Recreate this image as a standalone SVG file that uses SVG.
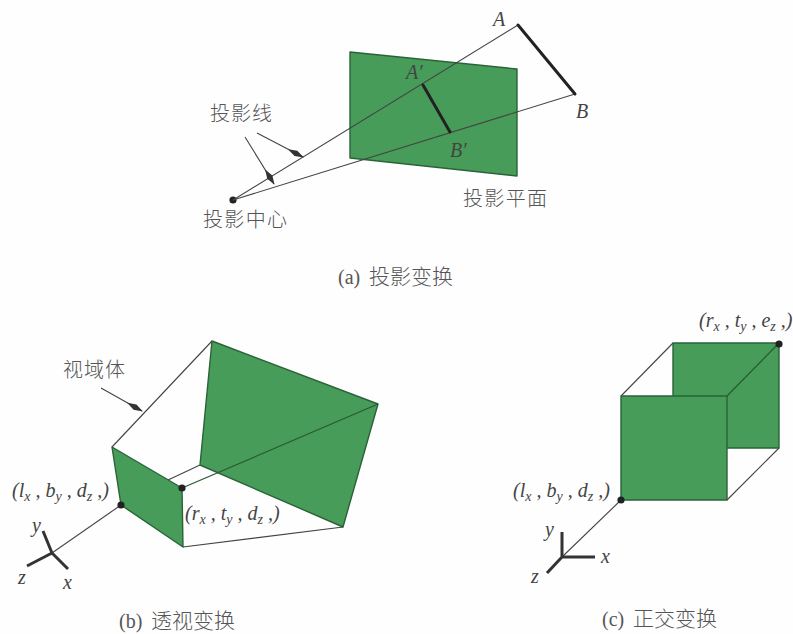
<svg xmlns="http://www.w3.org/2000/svg" width="793" height="634" viewBox="0 0 793 634">
<style>
.plane{fill:#469c58;stroke:#2a6339;stroke-width:1.4;stroke-linejoin:round}
.ln{fill:none;stroke:#444;stroke-width:1.1}
.lnd{fill:none;stroke:#2a5a32;stroke-width:1.2}
.bold{fill:none;stroke:#222;stroke-width:3;stroke-linecap:round}
.ax{fill:none;stroke:#333;stroke-width:3}
.dot{fill:#222}
.cjk{font-family:"Noto Sans CJK SC","Liberation Serif",serif;font-size:20px;font-weight:300;fill:#555}
.cap{font-family:"Liberation Serif","Noto Sans CJK SC",serif;font-size:20px;fill:#555}
.cap .c{font-family:"Noto Sans CJK SC",serif;font-size:21px;font-weight:300}
.m{font-family:"Liberation Serif",serif;font-style:italic;font-size:20px;fill:#444}
.m .s{font-size:14px}
</style>
<defs>
<marker id="ah" markerWidth="18" markerHeight="8" refX="17" refY="4" orient="auto" markerUnits="userSpaceOnUse"><path d="M0 4 L9 1 L18 4 L9 7 Z" fill="#333"/></marker>
</defs>
<rect width="793" height="634" fill="#fefefe"/>

<g id="panel-a">
<g id="plane-a"><polygon class="plane" points="350,52 517,69 517,176 350,158"/></g>
<g id="center-a"><circle class="dot" cx="233" cy="200" r="3.6"/></g>
<g id="connectors-a">
<path class="ln" d="M233,200 L518,25"/>
<path class="ln" d="M233,200 L575,94"/>
<path class="bold" d="M518,25 L575,94"/>
<path class="bold" d="M423,85 L450,132"/>
<path class="ln" d="M257,133 L303,157" marker-end="url(#ah)"/>
<path class="ln" d="M245,137 L274,184" marker-end="url(#ah)"/>
</g>
<text class="m" x="493" y="26">A</text>
<text class="m" x="576" y="118">B</text>
<text class="m" x="406" y="79">A′</text>
<text class="m" x="450" y="157">B′</text>
<text class="cjk" x="210" y="121" textLength="62">投影线</text>
<text class="cjk" x="203" y="227" textLength="84">投影中心</text>
<text class="cjk" x="463" y="206" textLength="84">投影平面</text>
<text class="cap" x="338" y="284">(a) <tspan class="c" x="369">投影变换</tspan></text>
</g>

<g id="panel-b">
<g id="plane-b-far"><polygon class="plane" points="212,341 378,404 343,527 200,465"/></g>
<g id="plane-b-near"><polygon class="plane" points="112,447 182,488 183,547 121,505"/></g>
<g id="connectors-b">
<path class="ln" d="M112,447 L212,341"/>
<path class="lnd" d="M182,488 L378,404"/>
<path class="ln" d="M183,547 L343,527"/>
<path class="ln" d="M168,480 L200,465"/>
<path class="ln" d="M52,553 L121,505"/>
<path class="ln" d="M101,388 L142,411" marker-end="url(#ah)"/>
<path class="ax" d="M52,553 L43,531 M52,553 L27,566 M52,553 L68,569"/>
</g>
<circle class="dot" cx="182" cy="488" r="3.6"/>
<circle class="dot" cx="121" cy="505" r="3.6"/>
<text class="cjk" x="63" y="377" textLength="62">视域体</text>
<text class="m" x="12" y="497">(<tspan>l</tspan><tspan class="s" dy="4">x</tspan><tspan dy="-4"> , b</tspan><tspan class="s" dy="4">y</tspan><tspan dy="-4"> , d</tspan><tspan class="s" dy="4">z</tspan><tspan dy="-4"> ,)</tspan></text>
<text class="m" x="185" y="520">(<tspan>r</tspan><tspan class="s" dy="4">x</tspan><tspan dy="-4"> , t</tspan><tspan class="s" dy="4">y</tspan><tspan dy="-4"> , d</tspan><tspan class="s" dy="4">z</tspan><tspan dy="-4"> ,)</tspan></text>
<text class="m" x="32" y="532">y</text>
<text class="m" x="18" y="584">z</text>
<text class="m" x="63" y="589">x</text>
<text class="cap" x="119" y="628">(b) <tspan class="c" x="151">透视变换</tspan></text>
</g>

<g id="panel-c">
<g id="plane-c-back"><polygon class="plane" points="673,343 779,343 779,448 673,448"/></g>
<g id="plane-c-front"><polygon class="plane" points="621,396 727,396 727,500 621,500"/></g>
<g id="connectors-c">
<path class="ln" d="M621,396 L673,343"/>
<path class="lnd" d="M727,396 L779,343"/>
<path class="ln" d="M727,500 L779,448"/>
<path class="ln" d="M562,557 L621,500"/>
<path class="ax" d="M562,557 L562,532 M562,557 L595,557 M562,557 L547,573"/>
</g>
<circle class="dot" cx="779" cy="344" r="3.6"/>
<circle class="dot" cx="621" cy="500" r="3.6"/>
<text class="m" x="699" y="327">(<tspan>r</tspan><tspan class="s" dy="4">x</tspan><tspan dy="-4"> , t</tspan><tspan class="s" dy="4">y</tspan><tspan dy="-4"> , e</tspan><tspan class="s" dy="4">z</tspan><tspan dy="-4"> ,)</tspan></text>
<text class="m" x="513" y="497">(<tspan>l</tspan><tspan class="s" dy="4">x</tspan><tspan dy="-4"> , b</tspan><tspan class="s" dy="4">y</tspan><tspan dy="-4"> , d</tspan><tspan class="s" dy="4">z</tspan><tspan dy="-4"> ,)</tspan></text>
<text class="m" x="545" y="536">y</text>
<text class="m" x="601" y="563">x</text>
<text class="m" x="531" y="583">z</text>
<text class="cap" x="602" y="626">(c) <tspan class="c" x="633">正交变换</tspan></text>
</g>
</svg>
